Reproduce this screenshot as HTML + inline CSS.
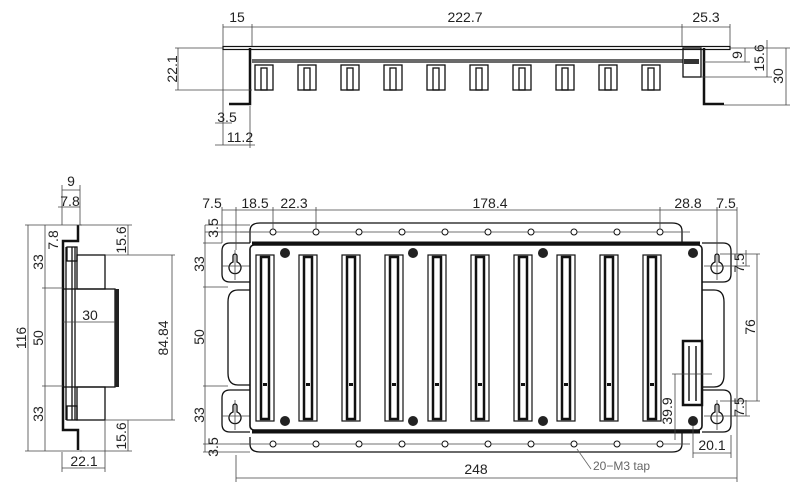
<!DOCTYPE html>
<html><head><meta charset="utf-8"><style>
html,body{margin:0;padding:0;background:#fff;}
svg{display:block;font-family:"Liberation Sans",sans-serif;}
.t{font-size:14px;fill:#222;}
.d{stroke:#444;stroke-width:0.8;fill:none;}
.o{stroke:#111;stroke-width:1.3;fill:none;}
.b{stroke:#111;stroke-width:2.5;fill:none;}
</style></head><body>
<svg width="800" height="496" viewBox="0 0 800 496" xmlns="http://www.w3.org/2000/svg">
<!-- ================= TOP VIEW ================= -->
<g>
<rect x="223" y="46.5" width="507" height="3" fill="#fff" stroke="#111" stroke-width="1.2"/>
<path class="b" d="M250 48 V104 H229"/>
<path class="o" d="M252 62 H683 M252 60 H683"/>
<path class="b" d="M704 48 V104 H724"/>
<rect x="683" y="48" width="18" height="29" class="o"/>
<rect x="684" y="59" width="15" height="5" fill="#333"/>
<g class="o">
<rect x="255" y="65" width="18" height="25"/><rect x="261" y="68" width="6" height="22"/>
<rect x="298" y="65" width="18" height="25"/><rect x="304" y="68" width="6" height="22"/>
<rect x="341" y="65" width="18" height="25"/><rect x="347" y="68" width="6" height="22"/>
<rect x="384" y="65" width="18" height="25"/><rect x="390" y="68" width="6" height="22"/>
<rect x="427" y="65" width="18" height="25"/><rect x="433" y="68" width="6" height="22"/>
<rect x="470" y="65" width="18" height="25"/><rect x="476" y="68" width="6" height="22"/>
<rect x="513" y="65" width="18" height="25"/><rect x="519" y="68" width="6" height="22"/>
<rect x="556" y="65" width="18" height="25"/><rect x="562" y="68" width="6" height="22"/>
<rect x="599" y="65" width="18" height="25"/><rect x="605" y="68" width="6" height="22"/>
<rect x="642" y="65" width="18" height="25"/><rect x="648" y="68" width="6" height="22"/>
</g>
<!-- dims -->
<path class="d" d="M223 27 H730 M223 24 V46 M252 24 V46 M682 24 V46 M730 24 V46"/>
<text class="t" x="237" y="22" text-anchor="middle">15</text>
<text class="t" x="465" y="22" text-anchor="middle">222.7</text>
<text class="t" x="706" y="22" text-anchor="middle">25.3</text>
<path class="d" d="M178 48 V90 M175 48 H223 M175 90 H252"/>
<text class="t" transform="translate(177,69) rotate(-90)" text-anchor="middle">22.1</text>
<path class="d" d="M223 50 V145 M250 106 V148 M215 123 H232 M215 145 H255"/>
<text class="t" x="227" y="122" text-anchor="middle">3.5</text>
<text class="t" x="240" y="142" text-anchor="middle">11.2</text>
<path class="d" d="M745 48 V62 M730 48 H790 M704 62 H750 M767 40 V77 M701 77 H772 M786 48 V105 M724 105 H790"/>
<text class="t" transform="translate(742,55) rotate(-90)" text-anchor="middle">9</text>
<text class="t" transform="translate(764,58) rotate(-90)" text-anchor="middle">15.6</text>
<text class="t" transform="translate(783,76) rotate(-90)" text-anchor="middle">30</text>
</g>

<!-- ================= SIDE VIEW ================= -->
<g>
<path class="b" d="M78 225 V241 H63 V430 H78 V450"/>
<rect x="63" y="289" width="52" height="98" class="o"/>
<rect x="115" y="289" width="4" height="98" fill="#222"/>
<rect x="77" y="255" width="28" height="34" class="o"/>
<rect x="77" y="387" width="28" height="33" class="o"/>
<path class="o" d="M66 247 V420 M72 247 V420 M75 247 V420"/>
<rect x="67" y="247" width="10" height="14" class="o"/>
<rect x="67" y="406" width="10" height="14" class="o"/>
<path class="d" d="M63 322 H115"/>
<text class="t" x="90" y="320" text-anchor="middle">30</text>
<path class="d" d="M28 225 V451 M25 225 H82 M25 451 H82 M45 225 V451 M42 288 H63 M42 386 H63"/>
<text class="t" transform="translate(26,338) rotate(-90)" text-anchor="middle">116</text>
<text class="t" transform="translate(43,262) rotate(-90)" text-anchor="middle">33</text>
<text class="t" transform="translate(43,338) rotate(-90)" text-anchor="middle">50</text>
<text class="t" transform="translate(43,414) rotate(-90)" text-anchor="middle">33</text>
<path class="d" d="M62 190 H80 M62 185 V225 M80 185 V225 M58 207 H80"/>
<text class="t" x="71" y="186" text-anchor="middle">9</text>
<text class="t" x="70" y="206" text-anchor="middle">7.8</text>
<text class="t" transform="translate(58,240) rotate(-90)" text-anchor="middle">7.8</text>
<path class="d" d="M128 225 V255 M105 255 H175 M80 225 H132 M128 420 V451 M105 420 H175 M80 451 H132 M172 255 V420"/>
<text class="t" transform="translate(126,240) rotate(-90)" text-anchor="middle">15.6</text>
<text class="t" transform="translate(126,436) rotate(-90)" text-anchor="middle">15.6</text>
<text class="t" transform="translate(168,338) rotate(-90)" text-anchor="middle">84.84</text>
<path class="d" d="M62 452 V472 M105 420 V472 M62 468 H105"/>
<text class="t" x="84" y="466" text-anchor="middle">22.1</text>
</g>

<!-- ================= FRONT VIEW ================= -->
<g>
<!-- top strip -->
<path class="o" d="M250 243 V231 Q250 223 260 223 H672 Q682 223 682 231 V243"/>
<path class="o" d="M250 437 V444 Q250 452 260 452 H672 Q682 452 682 444 V433"/>
<path class="d" d="M240 232 H690 M240 444 H690"/>
<g fill="#fff" stroke="#111" stroke-width="1">
<circle cx="273" cy="232" r="3"/><circle cx="316" cy="232" r="3"/><circle cx="359" cy="232" r="3"/><circle cx="402" cy="232" r="3"/><circle cx="445" cy="232" r="3"/><circle cx="488" cy="232" r="3"/><circle cx="531" cy="232" r="3"/><circle cx="574" cy="232" r="3"/><circle cx="617" cy="232" r="3"/><circle cx="660" cy="232" r="3"/>
<circle cx="273" cy="444" r="3"/><circle cx="316" cy="444" r="3"/><circle cx="359" cy="444" r="3"/><circle cx="402" cy="444" r="3"/><circle cx="445" cy="444" r="3"/><circle cx="488" cy="444" r="3"/><circle cx="531" cy="444" r="3"/><circle cx="574" cy="444" r="3"/><circle cx="617" cy="444" r="3"/><circle cx="660" cy="444" r="3"/>
</g>
<!-- ears -->
<path class="o" d="M250 243 H230 Q222 243 222 251 V274 Q222 282 230 282 H250"/>
<path class="o" d="M250 390 H230 Q222 390 222 398 V424 Q222 432 230 432 H250"/>
<path class="o" d="M702 243 H723 Q731 243 731 251 V274 Q731 282 723 282 H702"/>
<path class="o" d="M702 390 H723 Q731 390 731 398 V424 Q731 432 723 432 H702"/>
<path class="o" d="M250 290 H238 Q228 290 228 302 V373 Q228 385 238 385 H250"/>
<path class="o" d="M702 290 H714 Q724 290 724 302 V375 Q724 387 714 387 H702"/>
<!-- keyholes -->
<g class="o">
<path d="M233 262 V256 A2 2 0 0 1 237 256 V262 A6 6 0 1 1 233 262 Z"/>
<path d="M233 412 V406 A2 2 0 0 1 237 406 V412 A6 6 0 1 1 233 412 Z"/>
<path d="M715 262 V256 A2 2 0 0 1 719 256 V262 A6 6 0 1 1 715 262 Z"/>
<path d="M715 412 V406 A2 2 0 0 1 719 406 V412 A6 6 0 1 1 715 412 Z"/>
</g>
<path class="d" d="M222 266 H250 M235 250 V280 M222 416 H250 M235 400 V430 M704 266 H731 M717 250 V280 M704 416 H731 M717 400 V430"/>
<!-- main plate -->
<rect x="250" y="245" width="452" height="185" rx="4" fill="#fff" stroke="#111" stroke-width="1.6"/>
<path d="M252 243 H700 M252 432 H700" stroke="#111" stroke-width="3"/>
<!-- slots -->
<g>
<g id="s"><rect x="256" y="255" width="18" height="166" fill="none" stroke="#111" stroke-width="1.2"/><rect x="261" y="257" width="8" height="162" fill="none" stroke="#111" stroke-width="2.5"/><rect x="263" y="383" width="4" height="3" fill="#111"/></g>
<use href="#s" x="43"/><use href="#s" x="86"/><use href="#s" x="129"/><use href="#s" x="172"/><use href="#s" x="215"/><use href="#s" x="258"/><use href="#s" x="301"/><use href="#s" x="344"/><use href="#s" x="387"/>
</g>
<g fill="#222">
<circle cx="285" cy="253" r="5"/><circle cx="413" cy="253" r="5"/><circle cx="543" cy="253" r="5"/><circle cx="693" cy="253" r="5"/>
<circle cx="285" cy="421" r="5"/><circle cx="413" cy="421" r="5"/><circle cx="543" cy="421" r="5"/><circle cx="693" cy="421" r="5"/>
</g>
<!-- connector -->
<rect x="683" y="341" width="19" height="64" fill="#fff" stroke="#111" stroke-width="2.5"/>
<g fill="#555"><rect x="688" y="346" width="2" height="55"/><rect x="695" y="346" width="2" height="55"/></g>
<!-- dims -->
<path class="d" d="M222 210 H737 M222 207 V243 M236 207 V250 M273 207 V229 M316 207 V229 M660 207 V229 M717 207 V250 M737 207 V482"/>
<text class="t" x="212" y="208" text-anchor="middle">7.5</text>
<text class="t" x="255" y="208" text-anchor="middle">18.5</text>
<text class="t" x="294" y="208" text-anchor="middle">22.3</text>
<text class="t" x="490" y="208" text-anchor="middle">178.4</text>
<text class="t" x="688" y="208" text-anchor="middle">28.8</text>
<text class="t" x="726" y="208" text-anchor="middle">7.5</text>
<path class="d" d="M205 225 H250 M205 232 H250 M205 243 V452 M203 243 H222 M203 287 H228 M203 386 H228 M203 444 H250 M203 452 H250 M205 225 V243"/>
<text class="t" transform="translate(218,228) rotate(-90)" text-anchor="middle">3.5</text>
<text class="t" transform="translate(218,447) rotate(-90)" text-anchor="middle">3.5</text>
<text class="t" transform="translate(204,264) rotate(-90)" text-anchor="middle">33</text>
<text class="t" transform="translate(204,337) rotate(-90)" text-anchor="middle">50</text>
<text class="t" transform="translate(204,415) rotate(-90)" text-anchor="middle">33</text>
<path class="d" d="M757 254 V401 M720 254 H760 M720 401 H760 M746 266 V250 M746 416 V400 M731 266 H750 M731 416 H750"/>
<text class="t" transform="translate(744,263) rotate(-90)" text-anchor="middle">7.5</text>
<text class="t" transform="translate(744,407) rotate(-90)" text-anchor="middle">7.5</text>
<text class="t" transform="translate(755,327) rotate(-90)" text-anchor="middle">76</text>
<path class="d" d="M675 374 V440 M672 374 H712 M693 425 V458 M731 435 V458 M693 453 H731"/>
<text class="t" transform="translate(672,411) rotate(-90)" text-anchor="middle">39.9</text>
<text class="t" x="712" y="450" text-anchor="middle">20.1</text>
<path class="d" d="M236 455 V482 M236 478 H737"/>
<text class="t" x="476" y="474" text-anchor="middle">248</text>
<path d="M577 449 L591 469" stroke="#666" stroke-width="0.8"/>
<text x="593" y="470" font-size="12" fill="#666">20−M3 tap</text>
</g>
</svg>
</body></html>
